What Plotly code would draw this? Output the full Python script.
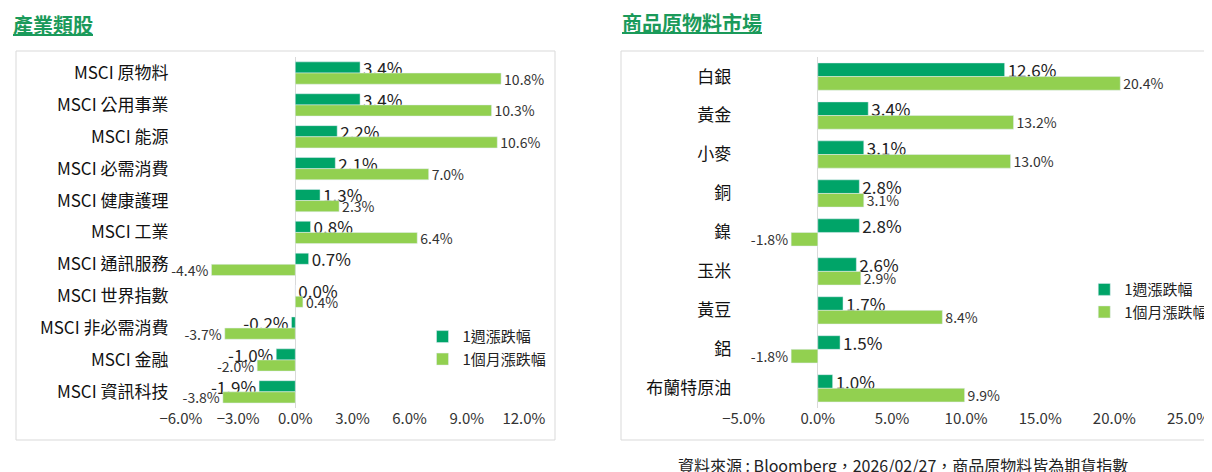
import plotly.graph_objects as go

sectors = ["MSCI 原物料", "MSCI 公用事業", "MSCI 能源", "MSCI 必需消費", "MSCI 健康護理", "MSCI 工業",
           "MSCI 通訊服務", "MSCI 世界指數", "MSCI 非必需消費", "MSCI 金融", "MSCI 資訊科技"]
sector_1w = [3.4, 3.4, 2.2, 2.1, 1.3, 0.8, 0.7, 0.0, -0.2, -1.0, -1.9]
sector_1m = [10.8, 10.3, 10.6, 7.0, 2.3, 6.4, -4.4, 0.4, -3.7, -2.0, -3.8]

commods = ["白銀", "黃金", "小麥", "銅", "鎳", "玉米", "黃豆", "鋁", "布蘭特原油"]
commod_1w = [12.6, 3.4, 3.1, 2.8, 2.8, 2.6, 1.7, 1.5, 1.0]
commod_1m = [20.4, 13.2, 13.0, 3.1, -1.8, 2.9, 8.4, -1.8, 9.9]

DARK = "#00a468"
LIGHT = "#92d050"
FONT = "Noto Sans CJK TC"

fig = go.Figure()

def add_pair(cats, w, m, xa, ya, leg):
    fig.add_trace(go.Bar(y=cats, x=w, orientation="h", name="1週漲跌幅", marker_color=DARK,
                         text=[f"{v:.1f}%" for v in w], textposition="outside", cliponaxis=False,
                         constraintext="none",
                         textfont=dict(size=17, color="#222", family=FONT),
                         xaxis=xa, yaxis=ya, legend=leg))
    fig.add_trace(go.Bar(y=cats, x=m, orientation="h", name="1個月漲跌幅", marker_color=LIGHT,
                         text=[f"{v:.1f}%" for v in m], textposition="outside", cliponaxis=False,
                         constraintext="none",
                         textfont=dict(size=14, color="#333", family=FONT),
                         xaxis=xa, yaxis=ya, legend=leg))

add_pair(sectors, sector_1w, sector_1m, "x", "y", "legend")
add_pair(commods, commod_1w, commod_1m, "x2", "y2", "legend2")

xcommon = dict(showgrid=False, zeroline=True, zerolinecolor="#d9d9d9", zerolinewidth=1,
               ticksuffix="%", tickformat=".1f", tickfont=dict(size=15, color="#333"),
               showline=False, ticks="", automargin=False)
ycommon = dict(domain=[0.153, 0.896], autorange="reversed", showgrid=False, automargin=False,
               tickfont=dict(size=17, color="#111"), ticksuffix="   ")
fig.update_layout(
    width=1212, height=472, margin=dict(l=0, r=0, t=0, b=0, autoexpand=False),
    paper_bgcolor="white", plot_bgcolor="white",
    font=dict(family=FONT, color="#222"),
    barmode="group", bargap=0.3, bargroupgap=0.0,
    xaxis=dict(domain=[0.1427, 0.4257], range=[-6, 12], dtick=3, anchor="y", **xcommon),
    yaxis=dict(anchor="x", **ycommon),
    xaxis2=dict(domain=[0.607, 0.974], range=[-5, 25], dtick=5, anchor="y2", **xcommon),
    yaxis2=dict(anchor="x2", **ycommon),
    legend=dict(x=0.342, y=0.28, xanchor="left", yanchor="middle", font=dict(size=15, color="#222"),
                bgcolor="rgba(0,0,0,0)", itemwidth=30),
    legend2=dict(x=0.888, y=0.38, xanchor="left", yanchor="middle", font=dict(size=15, color="#222"),
                 bgcolor="rgba(0,0,0,0)", itemwidth=30),
)

# boxes around each panel
for x0, x1 in [(8, 547), (613, 1210)]:
    fig.add_shape(type="rect", xref="paper", yref="paper", x0=x0 / 1212, x1=x1 / 1212,
                  y0=1 - 432 / 472, y1=1 - 43 / 472, line=dict(color="#d9d9d9", width=1))

fig.add_annotation(text="<b><u>產業類股</u></b>", xref="paper", yref="paper", x=3 / 1212, y=1 - 16 / 472,
                   xanchor="left", yanchor="middle", showarrow=False, font=dict(size=20, color="#1a9a5a"))
fig.add_annotation(text="<b><u>商品原物料市場</u></b>", xref="paper", yref="paper", x=612 / 1212, y=1 - 14 / 472,
                   xanchor="left", yanchor="middle", showarrow=False, font=dict(size=20, color="#1a9a5a"))
fig.add_annotation(text="資料來源 : Bloomberg，2026/02/27，商品原物料皆為期貨指數", xref="paper", yref="paper",
                   x=895 / 1212, y=1 - 457 / 472, xanchor="center", yanchor="middle", showarrow=False,
                   font=dict(size=16, color="#222"))

fig.write_html("out.html")
